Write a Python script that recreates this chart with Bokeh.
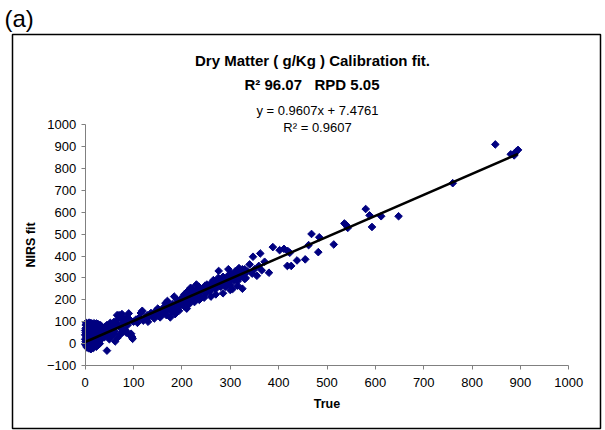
from bokeh.plotting import figure
from bokeh.models import Label, FixedTicker, Range1d, ColumnDataSource, LinearAxis, Title
from bokeh.embed import file_html
from bokeh.resources import INLINE

# ---- data ----
true_vals = [
    2, 4, 6, 8, 10, 12, 15, 18, 20, 23, 26, 28, 30, 32,
    1, 3, 5, 7, 9, 11, 13, 16, 19, 22, 25, 29, 33,
    1, 3, 5, 7, 9, 11, 14, 17, 20, 24, 27, 31, 35,
    2, 4, 6, 8, 10, 12, 15, 18, 21, 24, 28, 32, 36,
    1, 3, 5, 7, 9, 11, 13, 16, 19, 22, 25, 30, 34,
    2, 4, 6, 8, 10, 12, 14, 17, 20, 23, 27, 30,
    0, 0, 0, 0, 1, 45,
    38, 40, 42, 45, 48, 50, 52, 55, 58, 60, 62, 65, 68, 70, 72, 75, 78, 80, 82, 85,
    88, 90, 92, 95, 97, 94, 98, 100, 40, 50, 55, 62, 66, 72, 78, 84, 76, 66, 86, 48, 58,
    105, 108, 112, 115, 118, 120, 125, 128, 130, 133, 136, 140, 143, 146, 150, 150, 155, 158, 160,
    162, 165, 168, 170, 172, 175, 178, 180, 182, 185, 188, 190, 192, 195, 198, 200, 176, 186, 194, 166, 184,
    202, 205, 208, 210, 212, 215, 218, 220, 222, 225, 228, 230, 232, 235, 238, 240, 242, 245, 248, 250,
    205, 215, 226, 236, 246, 218, 230, 210,
    252, 255, 258, 260, 262, 265, 268, 270, 272, 275, 278, 280, 282, 285, 288, 290, 292, 295, 298, 300,
    302, 305, 308, 310, 312, 315, 318, 320, 322, 325, 328, 330, 276, 296, 318, 285, 300, 270, 260, 315, 305, 325,
    340, 347, 359, 362, 371, 380, 388, 402, 411, 419, 423, 418, 426, 438, 455, 462, 468, 484, 482, 514,
    335, 345, 350, 355, 365, 330, 332,
    536, 540, 543, 580, 588, 612, 648, 593, 760, 848, 880, 890, 895, 887,
]
nirs_fit = [
    95, 90, 92, 96, 88, 94, 90, 93, 88, 92, 90, 86, 80, 84,
    70, 75, 65, 78, 72, 68, 76, 70, 66, 74, 70, 64, 70,
    50, 45, 55, 40, 52, 48, 58, 44, 50, 56, 46, 52, 58,
    30, 25, 35, 20, 30, 38, 28, 34, 24, 32, 36, 30, 42,
    10, 5, 15, 0, 12, 8, 18, 4, 14, 10, 20, 16, 22,
    -10, -18, -5, -22, -12, -25, -15, -20, -8, -14, -5, 0,
    40, 20, 60, -2, 85, -32,
    60, 75, 50, 85, 70, 40, 95, 60, 80, 100, 55, 90, 110, 130, 75, 120, 95, 65, 105, 50,
    85, 138, 110, 45, 30, 36, 22, 100, 30, 20, 35, 10, 25, 40, 55, 60, 135, 130, 120, 55, 45,
    110, 95, 120, 140, 150, 105, 118, 130, 100, 125, 140, 135, 115, 150, 130, 160, 120, 145, 135,
    165, 150, 130, 195, 160, 170, 145, 180, 165, 175, 150, 200, 185, 170, 190, 210, 120, 135, 150, 185, 215,
    195, 225, 205, 185, 240, 215, 200, 230, 250, 220, 205, 240, 225, 260, 235, 215, 250, 240, 265, 230,
    170, 180, 190, 200, 210, 255, 270, 160,
    270, 250, 240, 275, 255, 290, 265, 250, 280, 300, 270, 260, 290, 305, 275, 260, 295, 310, 285, 270,
    320, 300, 290, 330, 310, 285, 300, 325, 305, 340, 315, 295, 332, 340, 345, 230, 245, 225, 215, 265, 250, 251,
    362, 397, 355, 412, 374, 324, 441, 427, 433, 423, 415, 355, 355, 380, 385, 450, 501, 486, 418, 453,
    330, 320, 340, 310, 335, 340, 300,
    549, 541, 529, 615, 586, 582, 582, 533, 733, 910, 865, 875, 885, 860,
]
slope = 0.9607
intercept = 7.4761
x_ticks = [0, 100, 200, 300, 400, 500, 600, 700, 800, 900, 1000]
y_ticks = [-100, 0, 100, 200, 300, 400, 500, 600, 700, 800, 900, 1000]
x_lo, x_hi = 0, 1000
y_lo, y_hi = -100, 1000

FONT = "Liberation Sans"
# outer chart box (= plot frame) on canvas
BL, BR, BT, BB = 12, 600, 32, 428
# where the axes' extents sit on the canvas
AXL, AXR, AYT, AYB = 84.7, 568.3, 122.7, 364.7

kx = (x_hi - x_lo) / (AXR - AXL)
ky = (y_hi - y_lo) / (AYB - AYT)
xr = Range1d(x_lo - (AXL - BL) * kx, x_hi + (BR - AXR) * kx)
yr = Range1d(y_lo - (BB - AYB) * ky, y_hi + (AYT - BT) * ky)


def sx(cx):
    return cx - BL


def sy(cy):
    return BB - cy


p = figure(width=605, height=430, output_backend="svg", toolbar_location=None,
           x_range=xr, y_range=yr, x_axis_location=None, y_axis_location=None,
           min_border_left=BL, min_border_right=605 - BR,
           min_border_top=BT, min_border_bottom=430 - BB)
p.outline_line_color = "black"
p.outline_line_width = 1.5
p.xgrid.grid_line_color = None
p.ygrid.grid_line_color = None
p.background_fill_color = "white"
p.border_fill_color = "white"

xax = LinearAxis(fixed_location=y_lo, bounds=(x_lo, x_hi), ticker=FixedTicker(ticks=x_ticks),
                 axis_label="True")
yax = LinearAxis(fixed_location=x_lo, bounds=(y_lo, y_hi), ticker=FixedTicker(ticks=y_ticks),
                 axis_label="NIRS fit")
for ax in (xax, yax):
    ax.axis_line_color = "#808080"
    ax.major_tick_line_color = "#808080"
    ax.minor_tick_line_color = None
    ax.major_tick_in = 0
    ax.major_tick_out = 4
    ax.major_label_text_font = FONT
    ax.major_label_text_font_size = "13px"
    ax.major_label_text_color = "black"
    ax.axis_label_text_font = FONT
    ax.axis_label_text_font_size = "12.5px"
    ax.axis_label_text_font_style = "bold"
    ax.axis_label_text_color = "black"
xax.major_label_standoff = 8
yax.major_label_standoff = 5
xax.axis_label_standoff = 7
yax.axis_label_standoff = 6
p.add_layout(xax, "below")
p.add_layout(yax, "left")

src = ColumnDataSource(dict(x=true_vals, y=nirs_fit))
p.scatter("x", "y", source=src, marker="square", angle=0.785398, size=5.4,
          fill_color="#000080", line_color="#000080")

x0, x1 = min(true_vals), max(true_vals)
p.line([x0, x1], [slope * x0 + intercept, slope * x1 + intercept],
       line_color="black", line_width=2.5)

p.add_layout(Title(text="(a)", align="left", offset=-8, text_font=FONT,
                   text_font_size="24px", text_font_style="normal",
                   text_color="black", standoff=5), "above")


def lab(text, cx, cy, size, style="normal", align="center"):
    p.add_layout(Label(x=sx(cx), y=sy(cy), x_units="screen", y_units="screen",
                       text=text, text_font=FONT, text_font_size=size,
                       text_font_style=style, text_align=align,
                       text_baseline="alphabetic", text_color="black"))


lab("Dry Matter ( g/Kg ) Calibration fit.", 312, 59.5, "15px", "bold")
lab("R\u00b2 96.07\u00a0\u00a0\u00a0RPD 5.05", 311.5, 83.5, "15px", "bold")
lab("y = 0.9607x + 7.4761", 317, 110, "13px")
lab("R\u00b2 = 0.9607", 317, 127, "13px")

open("out.html", "w").write(file_html(p, INLINE))
